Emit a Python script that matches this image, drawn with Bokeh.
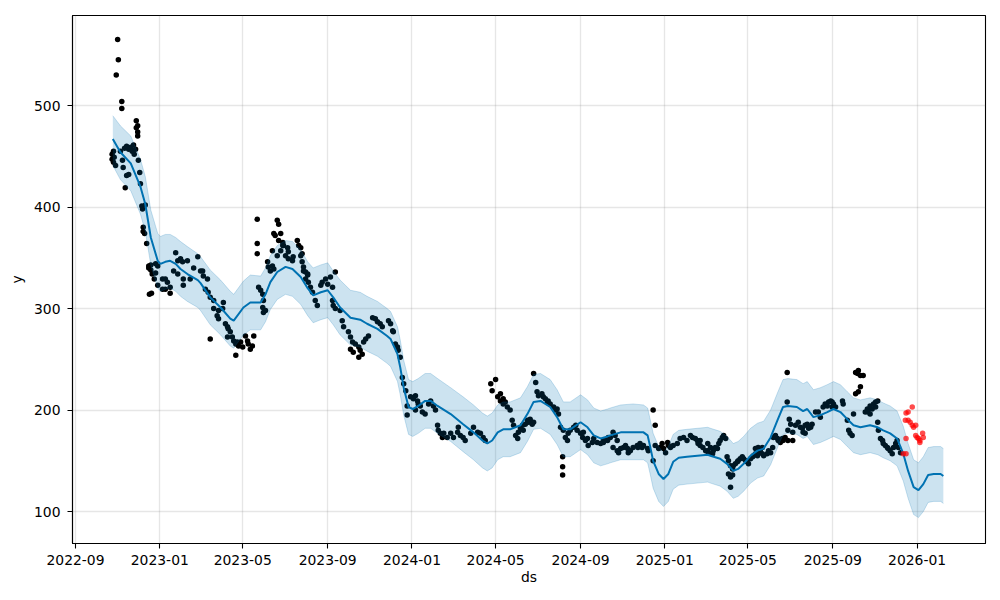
import pandas as pd
from bokeh.plotting import figure
from bokeh.models import Range1d, FixedTicker, MonthsTicker, DatetimeTickFormatter
from bokeh.embed import file_html
from bokeh.resources import INLINE

BASE = pd.Timestamp("2022-09-01")

# observed history (days since 2022-09-01, value)
obs_days = [
    53, 53, 55, 55, 56, 58, 59, 61, 62, 65, 67, 67, 68, 69, 71, 72, 74, 74, 77, 77,
    80, 82, 84, 85, 87, 88, 88, 90, 90, 90, 91, 93, 94, 96, 97, 98, 98, 100, 101, 103,
    106, 106, 107, 109, 109, 110, 111, 114, 116, 116, 119, 119, 126, 126, 130, 130, 133, 137, 137, 142,
    145, 148, 148, 152, 155, 156, 156, 162, 166, 171, 177, 181, 195,
    184, 185, 188, 191, 192, 195, 200, 200, 205, 207, 207, 213, 214, 217, 220, 220, 221, 224, 227, 229,
    232, 232, 234, 236, 239, 242, 246, 249, 250, 253, 256, 258, 263, 263, 263, 265, 268, 271, 271, 272,
    272, 275, 278, 279, 282, 285, 285, 287, 287, 289, 292, 292, 294, 294, 297, 297, 300, 300, 301, 304,
    307, 308, 308, 314, 315, 321, 323, 326, 326, 328, 328, 330, 330, 333, 333, 336, 336,
    337, 340, 343, 347, 350, 355, 357, 362, 365, 369, 372, 372, 373, 376, 376, 383, 386, 388, 395, 398,
    398, 401, 402, 405, 410, 410, 412, 415, 417, 420, 424, 430, 434, 437, 441, 444, 453, 456, 459, 460,
    463, 466, 467, 470, 473, 475, 478, 480, 480,
    485, 489, 492, 492, 495, 496, 499, 502, 506, 511, 514, 518, 521, 524, 525, 528, 531, 533, 538, 543,
    547, 553, 554, 557, 561, 564, 572, 576, 582, 586, 590, 593, 601, 603, 608, 611, 615, 615, 619, 619,
    622, 625,
    629, 632, 634, 637, 640, 641, 644, 647, 648, 651, 654, 656, 658, 661, 663, 663, 666, 668, 670, 675,
    677, 680, 683, 684, 687, 692, 695, 697, 699, 702, 705, 705, 705, 706, 709, 712, 713, 716, 721, 724,
    726, 731, 734, 735, 738, 741, 742, 748, 750, 755, 760, 764, 764, 770, 770, 771,
    774, 778, 778, 781, 784, 784, 786, 789, 793, 796, 799, 800, 803, 807, 813, 814, 817, 820, 822, 828,
    829, 836, 836, 839, 839, 844, 846, 849, 851, 854, 857, 858, 861, 865, 871, 875, 880, 885, 890, 893,
    897, 900, 901, 904, 904, 908, 912, 915, 915, 916,
    919, 922, 923, 926, 929, 931, 933, 936, 938, 941, 943, 945, 945, 948, 948, 948, 951, 951, 952, 955,
    958, 959, 962, 965, 967, 970, 972, 974, 977, 980, 981, 984, 984, 987, 988, 988, 991, 994, 994, 996,
    1001, 1003, 1006, 1009, 1010, 1013, 1016, 1017, 1020, 1023, 1024, 1027, 1030, 1030, 1031, 1031, 1033, 1035, 1038, 1038,
    1042, 1046, 1049, 1052, 1053, 1056, 1056, 1059, 1061, 1064, 1066,
    1071, 1075, 1078, 1082, 1085, 1088, 1090, 1093, 1095, 1095, 1097, 1100, 1110, 1111, 1117, 1119, 1121, 1124, 1126, 1129,
    1129, 1132, 1133, 1133, 1136, 1136, 1140, 1143, 1146, 1147, 1150, 1150, 1153, 1155, 1158, 1158, 1161, 1161, 1162, 1165,
    1168, 1169, 1172, 1175, 1176, 1179, 1182, 1184, 1187, 1189, 1191, 1194,
]
obs_vals = [
    452, 447, 455, 444, 449, 441, 530, 565, 545, 455, 504, 497, 446, 439, 458, 419, 431, 460, 457, 432,
    459, 455, 461, 452, 457, 485, 478, 480, 470, 474, 446, 434, 423, 401, 398, 380, 376, 374, 402, 364,
    342, 340, 314, 343, 338, 315, 334, 329, 344, 335, 342, 323, 329, 319, 329, 319, 326, 315, 321, 337,
    355, 347, 334, 349, 346, 329, 323, 347, 329, 340, 351, 337, 270,
    337, 332, 319, 329, 316, 311, 308, 300, 293, 298, 290, 300, 306, 285, 282, 272, 280, 277, 272, 268,
    265, 254, 267, 263, 267, 262, 273, 268, 265, 260, 263, 273, 388, 364, 354, 321, 318, 314, 301, 308,
    296, 298, 346, 341, 337, 342, 357, 339, 374, 372, 352, 387, 367, 383, 357, 374, 362, 365, 362, 352,
    360, 356, 349, 347, 351, 367, 362, 352, 360, 346, 354, 341, 337, 336, 329, 333, 334,
    326, 321, 316, 308, 303, 323, 326, 329, 324, 331, 321, 308, 303, 336, 300, 298, 288, 282, 277, 272,
    260, 267, 257, 265, 262, 252, 259, 255, 267, 270, 273, 291, 290, 287, 285, 282, 288, 285, 278, 277,
    265, 262, 259, 252, 232, 226, 219, 204, 195,
    213, 211, 214, 200, 209, 206, 204, 198, 196, 206, 209, 204, 200, 185, 180, 177, 173, 177, 173, 177,
    173, 178, 183, 175, 173, 170, 177, 183, 178, 177, 173, 170, 226, 219, 230, 213, 209, 216, 206, 211,
    208, 203,
    200, 190, 185, 175, 172, 178, 182, 185, 180, 186, 190, 188, 191, 186, 188, 236, 227, 218, 214, 216,
    213, 211, 208, 209, 206, 203, 200, 201, 196, 183, 154, 144, 136, 180, 173, 170, 177, 180, 183, 185,
    180, 177, 173, 178, 170, 172, 165, 168, 172, 168, 167, 168, 170, 170, 172, 173,
    173, 178, 163, 175, 170, 160, 158, 162, 163, 165, 162, 158, 160, 163, 165, 163, 167, 163, 165, 162,
    160, 200, 150, 185, 165, 162, 163, 167, 162, 158, 168, 165, 163, 165, 167, 172, 173, 170, 175, 173,
    172, 170, 167, 165, 170, 163, 160, 160, 167, 158,
    163, 157, 160, 163, 162, 167, 170, 173, 175, 172, 154, 150, 137, 145, 134, 124, 142, 136, 145, 147,
    149, 150, 152, 154, 152, 150, 149, 147, 152, 154, 155, 157, 162, 155, 158, 163, 160, 157, 163, 155,
    157, 160, 158, 163, 173, 175, 172, 170, 168, 172, 170, 173, 237, 208, 170, 180, 191, 186, 178, 170,
    185, 188, 183, 182, 178, 185, 177, 186, 182, 183, 186,
    198, 198, 193, 203, 206, 204, 208, 209, 208, 203, 206, 203, 209, 206, 190, 180, 177, 175, 196, 237,
    216, 236, 239, 218, 234, 223, 234, 198, 201, 198, 204, 196, 201, 206, 208, 203, 209, 188, 180, 172,
    170, 167, 165, 163, 162, 160, 157, 163, 167, 170, 163, 158,
]

# held-out test points (red)
test_days = [1198, 1201, 1202, 1202, 1202, 1205, 1205, 1208, 1211, 1211, 1213, 1216, 1216, 1218, 1220, 1222, 1222, 1226, 1227]
test_vals = [157, 190, 157, 197, 172, 198, 190, 188, 203, 185, 183, 185, 175, 173, 172, 170, 168, 177, 173]

# forecast (days since 2022-09-01)
fc_days = [
    54, 65, 80, 94, 101, 109, 119, 123, 130, 137, 145, 152, 162, 177, 181, 195, 210, 224, 229, 243,
    253, 268, 275, 282, 292, 304, 314, 326, 336, 344, 355, 365, 373, 383, 398, 412, 422, 437, 451, 456,
    466, 470, 475, 482, 488, 496, 506, 514, 524, 543, 561, 576, 589, 596, 603, 611, 619, 629, 644, 654,
    663, 673, 687, 697, 706, 716, 731, 741, 750, 760, 770, 774, 789, 807, 822, 828, 832, 836, 844, 851,
    858, 865, 873, 885, 900, 915, 919, 933, 943, 952, 959, 967, 977, 987, 996, 1006, 1016, 1024, 1031, 1044,
    1053, 1059, 1068, 1078, 1088, 1097, 1107, 1117, 1126, 1136, 1150, 1161, 1169, 1179, 1189, 1198, 1205, 1213, 1220, 1227,
    1234, 1242, 1252, 1256,
]
fc_yhat = [
    467, 454, 443, 420, 403, 370, 347, 344, 346, 347, 344, 339, 334, 328, 325, 311, 301, 290, 288, 301,
    306, 306, 314, 326, 336, 341, 339, 331, 320, 313, 316, 318, 311, 301, 291, 289, 285, 280, 273, 270,
    255, 242, 222, 203, 201, 204, 209, 209, 204, 196, 186, 178, 170, 167, 170, 178, 181, 181, 185, 196,
    208, 209, 203, 193, 181, 181, 188, 183, 175, 172, 174, 175, 178, 178, 178, 175, 163, 150, 137, 132,
    137, 149, 153, 154, 155, 156, 155, 152, 147, 140, 142, 147, 155, 160, 162, 173, 190, 203, 204, 203,
    199, 201, 193, 195, 198, 201, 198, 191, 185, 183, 185, 183, 180, 177, 172, 157, 140, 124, 121, 127,
    136, 137, 137, 135,
]
fc_upper = [
    490, 480, 470, 447, 430, 397, 374, 371, 373, 373, 370, 366, 361, 354, 351, 338, 328, 317, 314, 327,
    333, 332, 340, 352, 362, 367, 366, 358, 346, 340, 343, 345, 337, 328, 318, 316, 312, 307, 300, 297,
    282, 269, 249, 230, 228, 231, 236, 236, 231, 222, 213, 205, 197, 194, 197, 205, 208, 208, 212, 223,
    235, 236, 230, 220, 208, 208, 215, 210, 202, 199, 201, 202, 205, 206, 205, 202, 190, 177, 164, 158,
    164, 176, 180, 181, 182, 183, 182, 179, 174, 167, 169, 174, 182, 187, 189, 200, 217, 230, 231, 230,
    226, 228, 220, 222, 225, 228, 225, 218, 212, 210, 212, 210, 207, 204, 199, 184, 167, 151, 148, 154,
    163, 164, 164, 162,
]
fc_lower = [
    441, 427, 416, 393, 376, 343, 320, 317, 319, 320, 317, 312, 307, 301, 298, 284, 274, 263, 261, 274,
    279, 279, 287, 299, 309, 314, 312, 304, 293, 286, 289, 291, 284, 274, 264, 262, 258, 253, 246, 243,
    228, 215, 195, 176, 174, 177, 182, 182, 177, 169, 159, 151, 143, 140, 143, 151, 154, 154, 158, 169,
    181, 182, 176, 166, 154, 154, 161, 156, 148, 145, 147, 148, 151, 151, 151, 148, 136, 123, 110, 105,
    110, 122, 126, 127, 128, 129, 128, 125, 120, 113, 115, 120, 128, 133, 135, 146, 163, 176, 177, 176,
    172, 174, 166, 168, 171, 174, 171, 164, 158, 156, 158, 156, 153, 150, 145, 130, 113, 97, 94, 100,
    109, 110, 110, 108,
]

y_ticks = [100, 200, 300, 400, 500]
tick_months = [0, 4, 8]  # BokehJS months are 0-based: Jan, May, Sep


def to_dates(days):
    return BASE + pd.to_timedelta(days, unit="D")


obs_x = to_dates(obs_days)
test_x = to_dates(test_days)
fc_x = to_dates(fc_days)

FONT = "DejaVu Sans"
FS = "13.9px"

p = figure(
    width=992, height=592,
    x_axis_type="datetime",
    x_range=Range1d(start=pd.Timestamp("2022-08-27 16:00"), end=pd.Timestamp("2026-04-10")),
    y_range=Range1d(start=68.5, end=588.7),
    output_backend="svg", toolbar_location=None,
    min_border_left=72, min_border_right=7, min_border_top=15, min_border_bottom=49,
)
p.background_fill_color = "white"
p.border_fill_color = "white"
p.outline_line_color = "black"
p.outline_line_width = 1.1

p.scatter(obs_x, obs_vals, size=5.5, color="black", line_color=None)
p.line(fc_x, fc_yhat, line_color="#0072B2", line_width=2)
p.varea(x=fc_x, y1=fc_lower, y2=fc_upper, fill_color="#0072B2", fill_alpha=0.2)
p.line(fc_x, fc_upper, line_color="#0072B2", line_alpha=0.2, line_width=1)
p.line(fc_x, fc_lower, line_color="#0072B2", line_alpha=0.2, line_width=1)
p.scatter(test_x, test_vals, size=5.5, color="red", alpha=0.7, line_color=None)

p.xaxis.ticker = MonthsTicker(months=tick_months)
fmt = "%Y-%m"
p.xaxis.formatter = DatetimeTickFormatter(days=fmt, months=fmt, years=fmt, hours=fmt, minutes=fmt)
p.yaxis.ticker = FixedTicker(ticks=y_ticks)
p.xaxis.axis_label = "ds"
p.yaxis.axis_label = "y"

for ax in (p.xaxis, p.yaxis):
    ax.major_label_text_font = FONT
    ax.major_label_text_font_size = FS
    ax.major_label_text_color = "black"
    ax.axis_label_text_font = FONT
    ax.axis_label_text_font_size = FS
    ax.axis_label_text_font_style = "normal"
    ax.axis_label_text_color = "black"
    ax.axis_line_color = "black"
    ax.axis_line_width = 1.1
    ax.major_tick_line_color = "black"
    ax.major_tick_line_width = 1.1
    ax.major_tick_out = 5
    ax.major_tick_in = 0
    ax.minor_tick_line_color = None

p.xaxis.major_label_standoff = 6
p.xaxis.axis_label_standoff = 1
p.yaxis.major_label_standoff = 7
p.yaxis.axis_label_standoff = 6

for g in (p.xgrid, p.ygrid):
    g.grid_line_color = "gray"
    g.grid_line_alpha = 0.2
    g.grid_line_width = 1.3
p.xgrid.ticker = p.xaxis.ticker
p.ygrid.ticker = p.yaxis.ticker

open("out.html", "w").write(file_html(p, INLINE))
